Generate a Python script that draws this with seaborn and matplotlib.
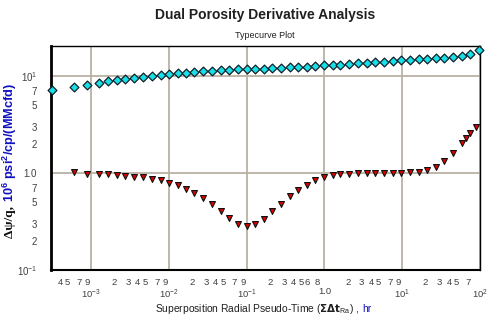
import numpy as np
import pandas as pd
import matplotlib
matplotlib.use("Agg")
import matplotlib.pyplot as plt
import seaborn as sns

# ---- data ----
cyan_t = [3.13e-4, 6.1e-4, 8.96e-4, 1.28e-3, 1.67e-3, 2.18e-3, 2.76e-3, 3.60e-3, 4.62e-3,
          6.03e-3, 7.87e-3, 1.006e-2, 1.30e-2, 1.68e-2, 2.13e-2, 2.77e-2, 3.56e-2, 4.65e-2,
          5.94e-2, 7.69e-2, 0.100, 0.128, 0.1675, 0.212, 0.274, 0.361, 0.462, 0.593, 0.764,
          0.989, 1.28, 1.59, 2.07, 2.68, 3.50, 4.47, 5.83, 7.55, 9.66, 12.6, 16.4, 21.0,
          27.2, 34.8, 45.4, 58.7, 74.4, 97.1]
cyan_y = [7.17, 7.65, 8.07, 8.41, 8.82, 9.09, 9.31, 9.47, 9.70, 10.0, 10.24, 10.49, 10.66,
          10.81, 11.07, 11.34, 11.40, 11.53, 11.60, 11.72, 11.81, 11.85, 11.90, 12.0, 12.1,
          12.3, 12.35, 12.47, 12.77, 12.97, 13.0, 13.14, 13.36, 13.55, 13.75, 13.94, 14.11,
          14.31, 14.52, 14.72, 14.9, 15.15, 15.33, 15.51, 15.8, 16.15, 16.86, 18.5]
red_t = [6.1e-4, 8.96e-4, 1.28e-3, 1.67e-3, 2.18e-3, 2.76e-3, 3.60e-3, 4.62e-3, 6.03e-3,
         7.87e-3, 1.006e-2, 1.30e-2, 1.68e-2, 2.13e-2, 2.77e-2, 3.56e-2, 4.65e-2, 5.94e-2,
         7.69e-2, 0.100, 0.128, 0.1675, 0.212, 0.274, 0.361, 0.462, 0.593, 0.764, 0.989,
         1.28, 1.59, 2.07, 2.68, 3.50, 4.47, 5.83, 7.55, 9.66, 12.6, 16.4, 21.0, 27.2, 34.8,
         45.4, 58.7, 66.1, 74.4, 88.1]
red_y = [1.017, 0.976, 0.976, 0.976, 0.954, 0.931, 0.92, 0.903, 0.867, 0.847, 0.794, 0.752,
         0.684, 0.627, 0.556, 0.479, 0.406, 0.346, 0.298, 0.286, 0.298, 0.336, 0.406, 0.479,
         0.580, 0.668, 0.752, 0.847, 0.916, 0.954, 0.976, 0.988, 1.0, 1.0, 1.0, 1.0, 1.0, 1.0,
         1.024, 1.024, 1.07, 1.16, 1.33, 1.62, 2.05, 2.28, 2.57, 3.0]

x_major = [1e-3, 1e-2, 1e-1, 1.0, 10.0, 100.0]
x_major_labels = ["$10^{-3}$", "$10^{-2}$", "$10^{-1}$", "1.0", "$10^{1}$", "$10^{2}$"]
x_decades = [1e-4, 1e-3, 1e-2, 1e-1, 1.0, 10.0]
x_minor_labeled = [[4, 5, 7, 9], [2, 3, 4, 5, 7, 9], [2, 3, 4, 5, 7, 9],
                   [2, 3, 4, 5, 6, 8], [2, 3, 4, 5, 7, 9], [2, 3, 4, 5, 7]]
y_major = [0.1, 1.0, 10.0]
y_major_labels = ["$10^{-1}$", "1.0", "$10^{1}$"]
y_decades = [0.1, 1.0, 10.0]
y_minor_labeled = [2, 3, 5, 7]

title = "Dual Porosity Derivative Analysis"
subtitle = "Typecurve Plot"

# ---- style ----
sns.set_style("white")
plt.rcParams["font.family"] = ["Liberation Sans", "DejaVu Sans"]
plt.rcParams["mathtext.default"] = "regular"

W, H = 499, 324
fig = plt.figure(figsize=(W / 100, H / 100), dpi=100)
ax = fig.add_axes([51 / W, 1 - 270 / H, (480 - 51) / W, (270 - 46) / H])

df_c = pd.DataFrame({"t": cyan_t, "v": cyan_y})
df_r = pd.DataFrame({"t": red_t, "v": red_y})
sns.scatterplot(data=df_c, x="t", y="v", ax=ax, marker="D", s=20, color="#18e0e8",
                edgecolor="#10202a", linewidth=0.9, zorder=3, clip_on=False)
sns.scatterplot(data=df_r, x="t", y="v", ax=ax, marker="v", s=18, color="#e00000",
                edgecolor="#101010", linewidth=0.8, zorder=3)

ax.set_xscale("log")
ax.set_yscale("log")
ax.set_xlim(3.06e-4, 100)
ax.set_ylim(0.1, 20.4)
ax.set_xlabel("")
ax.set_ylabel("")

# x ticks
ax.set_xticks(x_major)
ax.set_xticklabels(x_major_labels)
xm, xml = [], []
for dec, labs in zip(x_decades, x_minor_labeled):
    for k in range(2, 10):
        v = k * dec
        if 3.06e-4 <= v <= 100:
            xm.append(v)
            xml.append(str(k) if k in labs else "")
ax.set_xticks(xm, minor=True)
ax.set_xticklabels(xml, minor=True)

# y ticks
ax.set_yticks(y_major)
ax.set_yticklabels(y_major_labels)
ym, yml = [], []
for dec in y_decades[:-1]:
    for k in range(2, 10):
        ym.append(k * dec)
        yml.append(str(k) if k in y_minor_labeled else "")
ax.set_yticks(ym, minor=True)
ax.set_yticklabels(yml, minor=True)

tc = "#404040"
ax.tick_params(axis="x", which="both", direction="out", length=4, width=0.8,
               color="black", labelsize=6.8, labelcolor=tc)
ax.tick_params(axis="x", which="minor", pad=1.5)
ax.tick_params(axis="x", which="major", pad=8.5)
ax.tick_params(axis="y", which="both", direction="inout", length=8, width=0.8,
               color="black", labelsize=7, labelcolor=tc, pad=6)

ax.grid(True, which="major", color="#b8b2a4", linewidth=1.3)
ax.grid(False, which="minor")
ax.set_axisbelow(True)

for s in ["top", "right"]:
    ax.spines[s].set_linewidth(1.0)
    ax.spines[s].set_color("black")
ax.spines["left"].set_linewidth(2.0)
ax.spines["bottom"].set_linewidth(1.5)
ax.spines["left"].set_color("black")
ax.spines["bottom"].set_color("black")

# titles
fig.text(265 / W, 1 - 15 / H, title, ha="center", va="center", fontsize=10,
         fontweight="bold", color="#202020")
fig.text(265 / W, 1 - 35 / H, subtitle, ha="center", va="center", fontsize=6.5,
         color="#202020")

# x label (two colours)
fig.canvas.draw()
r = fig.canvas.get_renderer()
xl1 = fig.text(155 / W, 1 - 309 / H,
               r"Superposition Radial Pseudo-Time ($\mathbf{\Sigma\Delta t}_{Ra}$) ,",
               ha="left", va="center", fontsize=7.4, color="#202020")
bb = xl1.get_window_extent(r)
fig.text((bb.x1 + 3) / W, 1 - 309 / H, "hr", ha="left", va="center",
         fontsize=7.4, color="#1010c0")

# y label (two colours)
yl1 = fig.text(10 / W, 1 - 238 / H, "Δψ/q, ", rotation=90, ha="center", va="bottom",
               fontsize=9.6, fontweight="bold", color="#101010",
               family=["Liberation Serif", "DejaVu Serif"])
bb = yl1.get_window_extent(r)
fig.text(10 / W, (bb.y1 + 1) / H, "10$^{6}$ psi$^{2}$/cp/(MMcfd)", rotation=90,
         ha="center", va="bottom", fontsize=9.2, fontweight="bold", color="#1010c0")

fig.savefig("out.png", dpi=100)
